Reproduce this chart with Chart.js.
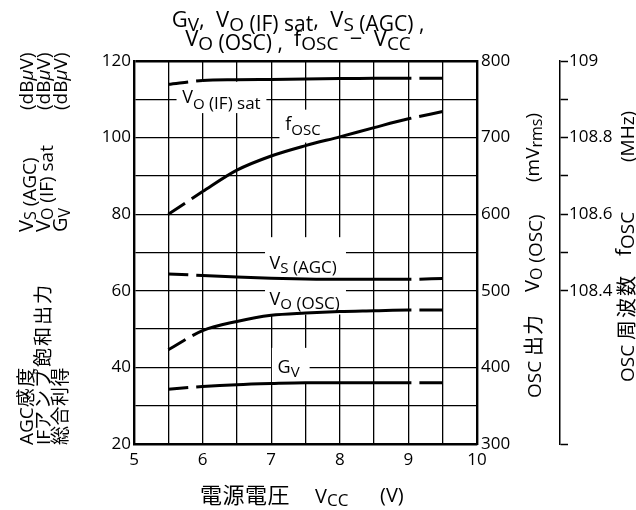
<!DOCTYPE html>
<html>
<head>
<meta charset="utf-8">
<script src="https://cdn.jsdelivr.net/npm/chart.js@4.4.1/dist/chart.umd.min.js"></script>
<style>
  html, body { margin: 0; padding: 0; background: #fff; }
  canvas { display: block; }
</style>
</head>
<body>
<canvas id="chart" width="636" height="510"></canvas>
<script>
// Supply voltage sweep (V)
const vcc = [5.5, 6, 6.5, 7, 7.5, 8, 8.5, 9, 9.5];

// Left axis quantities (dBμV)
const voIfSat = [113.9, 114.9, 115.1, 115.2, 115.3, 115.4, 115.5, 115.5, 115.5];
const vsAgc   = [64.4, 64.0, 63.6, 63.3, 63.1, 63.0, 63.0, 63.0, 63.2];
const gv      = [34.3, 35.0, 35.5, 35.8, 36.0, 36.0, 36.0, 36.0, 36.0];

// OSC output level (mVrms), right axis
const voOsc = [423, 448, 460, 468, 471, 473, 474, 475, 475];

// OSC frequency (MHz), far right axis
const fOsc = [108.600, 108.659, 108.715, 108.752, 108.779, 108.802, 108.826, 108.849, 108.868];

// Grid positions and labelled ticks
const xGrid        = [5, 5.5, 6, 6.5, 7, 7.5, 8, 8.5, 9, 9.5, 10];
const xTickLabels  = [5, 6, 7, 8, 9, 10];
const dbGrid       = [20, 30, 40, 50, 60, 70, 80, 90, 100, 110, 120];
const dbTickLabels = [20, 40, 60, 80, 100, 120];
const mvGrid       = [300, 350, 400, 450, 500, 550, 600, 650, 700, 750, 800];
const mvTickLabels = [300, 400, 500, 600, 700, 800];
const mhzTicks     = [108.0, 108.4, 108.5, 108.6, 108.7, 108.8, 108.9, 109.0];
const mhzTickLabels = [108.4, 108.6, 108.8, 109];

const FONT = "'Open Sans', 'Noto Sans CJK JP', sans-serif";

const pts = arr => vcc.map((x, i) => ({ x, y: arr[i] }));
const has = (list, v) => list.some(t => Math.abs(t - v) < 1e-6);

// Measured ends of each curve are drawn broken
const segStyle = {
  borderDash: c => c.p0.parsed.x < 5.99 ? [20, 8]
                 : (c.p1.parsed.x > 9.01 ? [3, 8, 60, 0] : [])
};

function curve(arr, axis) {
  return {
    data: pts(arr),
    yAxisID: axis,
    borderColor: '#000',
    borderWidth: 3,
    borderCapStyle: 'butt',
    pointRadius: 0,
    fill: false,
    cubicInterpolationMode: 'monotone',
    segment: segStyle
  };
}

// Text runs: t = text, s = size, dy = baseline shift, adv = fixed advance per char, i = italic
const R = (t, s, dy = 0, extra = {}) => Object.assign({ t, s, dy }, extra);

function runsWidth(ctx, runs) {
  let w = 0;
  for (const r of runs) {
    ctx.font = (r.i ? 'italic ' : '') + r.s + 'px ' + FONT;
    w += r.adv ? r.adv * [...r.t].length : ctx.measureText(r.t).width;
  }
  return w;
}

function drawRuns(ctx, runs, x, y, rotated, centered) {
  ctx.save();
  ctx.translate(x, y);
  if (rotated) ctx.rotate(-Math.PI / 2);
  ctx.fillStyle = '#000';
  ctx.textBaseline = 'alphabetic';
  ctx.textAlign = 'left';
  let cx = centered ? -runsWidth(ctx, runs) / 2 : 0;
  for (const r of runs) {
    ctx.font = (r.i ? 'italic ' : '') + r.s + 'px ' + FONT;
    if (r.adv) {
      for (const ch of r.t) { ctx.fillText(ch, cx, r.dy); cx += r.adv; }
    } else {
      ctx.fillText(r.t, cx, r.dy);
      cx += ctx.measureText(r.t).width;
    }
  }
  ctx.restore();
}

const dbuv = [R('(dB', 19), R('μ', 19, 0, { i: 1 }), R('V)', 19)];

// Curve name tags placed in data coordinates (x: V, y: dBμV), with blank backing boxes
const curveTags = [
  { x: 5.704, y: 108.96, box: [5.62, 106.4, 6.93, 114.6],
    runs: [R('V', 18), R('O', 15, 5.5), R(' (IF) sat', 17, 5.5)] },
  { x: 7.205, y: 102.1, box: [7.12, 98.7, 7.95, 107.3],
    runs: [R('f', 18), R('OSC', 15, 5.5)] },
  { x: 6.977, y: 65.7, box: [6.91, 53.8, 8.09, 74.0],
    runs: [R('V', 18), R('S', 15, 4.5), R(' (AGC)', 17, 4.5)] },
  { x: 6.977, y: 56.3, box: null,
    runs: [R('V', 18), R('O', 15, 4.5), R(' (OSC)', 17, 4.5)] },
  { x: 7.093, y: 38.46, box: [7.01, 35.9, 7.56, 45.1],
    runs: [R('G', 18), R('V', 15, 4)] }
];

const annotate = {
  id: 'annotate',
  beforeDatasetsDraw(chart) {
    const ctx = chart.ctx, xs = chart.scales.x, ys = chart.scales.y;
    ctx.save();
    ctx.fillStyle = '#fff';
    for (const t of curveTags) {
      if (!t.box) continue;
      const [x0, y0, x1, y1] = t.box;
      const px0 = xs.getPixelForValue(x0), px1 = xs.getPixelForValue(x1);
      const py0 = ys.getPixelForValue(y1), py1 = ys.getPixelForValue(y0);
      ctx.fillRect(px0, py0, px1 - px0, py1 - py0);
    }
    ctx.restore();
    for (const t of curveTags) {
      drawRuns(ctx, t.runs, xs.getPixelForValue(t.x), ys.getPixelForValue(t.y), false, false);
    }
  },
  afterDraw(chart) {
    const ctx = chart.ctx;
    // Chart title
    drawRuns(ctx, [R('G', 22), R('V', 19, 4), R(',  ', 22), R('V', 22), R('O', 19, 4),
                   R(' (IF) sat', 21, 4), R(',  ', 22), R('V', 22), R('S', 19, 4), R(' (AGC) ,', 21, 4)],
             298, 27, false, true);
    drawRuns(ctx, [R('V', 22), R('O', 19, 4), R(' (OSC) ,  ', 21, 4), R('f', 22), R('OSC', 19, 4),
                   R('  −  ', 22), R('V', 22), R('CC', 19, 4)],
             298, 46, false, true);

    // Left axis titles (three stacked columns)
    drawRuns(ctx, [R('AGC', 19), R('感度', 19, 0, { adv: 20.5 })], 33, 445, true);
    drawRuns(ctx, [R('V', 20), R('S', 16, 3), R(' (AGC)', 19, 3)], 33, 232, true);
    drawRuns(ctx, dbuv, 33, 110, true);

    drawRuns(ctx, [R('IF', 19), R('アンプ飽和出力', 19, 0, { adv: 21 })], 50, 445, true);
    drawRuns(ctx, [R('V', 20), R('O', 16, 3), R(' (IF) sat', 19, 3)], 50, 232, true);
    drawRuns(ctx, dbuv, 50, 110, true);

    drawRuns(ctx, [R('総合利得', 19, 0, { adv: 19.5 })], 67, 445, true);
    drawRuns(ctx, [R('G', 20), R('V', 16, 3)], 67, 232, true);
    drawRuns(ctx, dbuv, 67, 110, true);

    // Right axis title (mVrms)
    drawRuns(ctx, [R('OSC ', 19), R('出力', 20, 0, { adv: 21 })], 541, 398, true);
    drawRuns(ctx, [R('V', 20), R('O', 16, 3), R(' (OSC)', 19, 3)], 539, 292, true);
    drawRuns(ctx, [R('(mV', 19), R('rms', 16, 3), R(')', 19)], 539, 182, true);

    // Far right axis title (MHz)
    drawRuns(ctx, [R('OSC ', 19), R('周波数', 20, 0, { adv: 22 })], 634, 382, true);
    drawRuns(ctx, [R('f', 21), R('OSC', 19, 3)], 631, 256, true);
    drawRuns(ctx, [R('(MHz)', 19)], 634, 162, true);

    // X axis title
    drawRuns(ctx, [R('電源電圧', 22, 0, { adv: 22.5 })], 200, 503, false);
    drawRuns(ctx, [R('V', 20), R('CC', 17, 3)], 315, 503, false);
    drawRuns(ctx, [R('(V)', 20)], 380, 502, false);
  }
};

const tickFont = { family: FONT, size: 17 };

new Chart(document.getElementById('chart'), {
  type: 'line',
  data: {
    datasets: [
      curve(voIfSat, 'y'),
      curve(vsAgc, 'y'),
      curve(gv, 'y'),
      curve(voOsc, 'yMv'),
      curve(fOsc, 'yF')
    ]
  },
  options: {
    responsive: false,
    animation: false,
    events: [],
    layout: { autoPadding: false, padding: { top: 61, left: 0, right: 0, bottom: 0 } },
    plugins: { legend: { display: false }, tooltip: { enabled: false }, title: { display: false } },
    scales: {
      x: {
        type: 'linear', min: 5, max: 10,
        afterBuildTicks: s => { s.ticks = xGrid.map(v => ({ value: v })); },
        afterFit: s => { s.height = 66; },
        grid: { color: '#000', lineWidth: 1.3, drawTicks: false },
        border: { color: '#000', width: 2.4 },
        ticks: {
          autoSkip: false, maxRotation: 0, padding: 6, color: '#000', font: tickFont,
          callback: v => has(xTickLabels, v) ? String(v) : ''
        }
      },
      y: {
        position: 'left', min: 20, max: 120,
        afterBuildTicks: s => { s.ticks = dbGrid.map(v => ({ value: v })); },
        afterFit: s => { s.width = 134; },
        grid: {
          color: '#000', drawTicks: false,
          lineWidth: c => (c.tick && c.tick.value === 120) ? 2.4 : 1.3
        },
        border: { color: '#000', width: 2.4 },
        ticks: {
          autoSkip: false, padding: 3, color: '#000', font: tickFont,
          callback: v => has(dbTickLabels, v) ? String(v) : ''
        }
      },
      yMv: {
        position: 'right', weight: 0, min: 300, max: 800,
        afterBuildTicks: s => { s.ticks = mvGrid.map(v => ({ value: v })); },
        afterFit: s => { s.width = 83; },
        grid: { drawOnChartArea: false, drawTicks: false },
        border: { color: '#000', width: 2.4 },
        ticks: {
          autoSkip: false, padding: 4, color: '#000', font: tickFont,
          callback: v => has(mvTickLabels, v) ? String(v) : ''
        }
      },
      yF: {
        position: 'right', weight: 1, min: 108, max: 109,
        afterBuildTicks: s => { s.ticks = mhzTicks.map(v => ({ value: v })); },
        afterFit: s => { s.width = 76; },
        grid: { drawOnChartArea: false, drawTicks: true, tickLength: 8, tickColor: '#000', tickWidth: 1.5, color: '#000' },
        border: { color: '#000', width: 1.5 },
        ticks: {
          autoSkip: false, padding: 1, color: '#000', font: tickFont,
          callback: v => has(mhzTickLabels, v) ? (Number.isInteger(v) ? String(v) : v.toFixed(1)) : ''
        }
      }
    }
  },
  plugins: [annotate]
});
</script>
</body>
</html>
